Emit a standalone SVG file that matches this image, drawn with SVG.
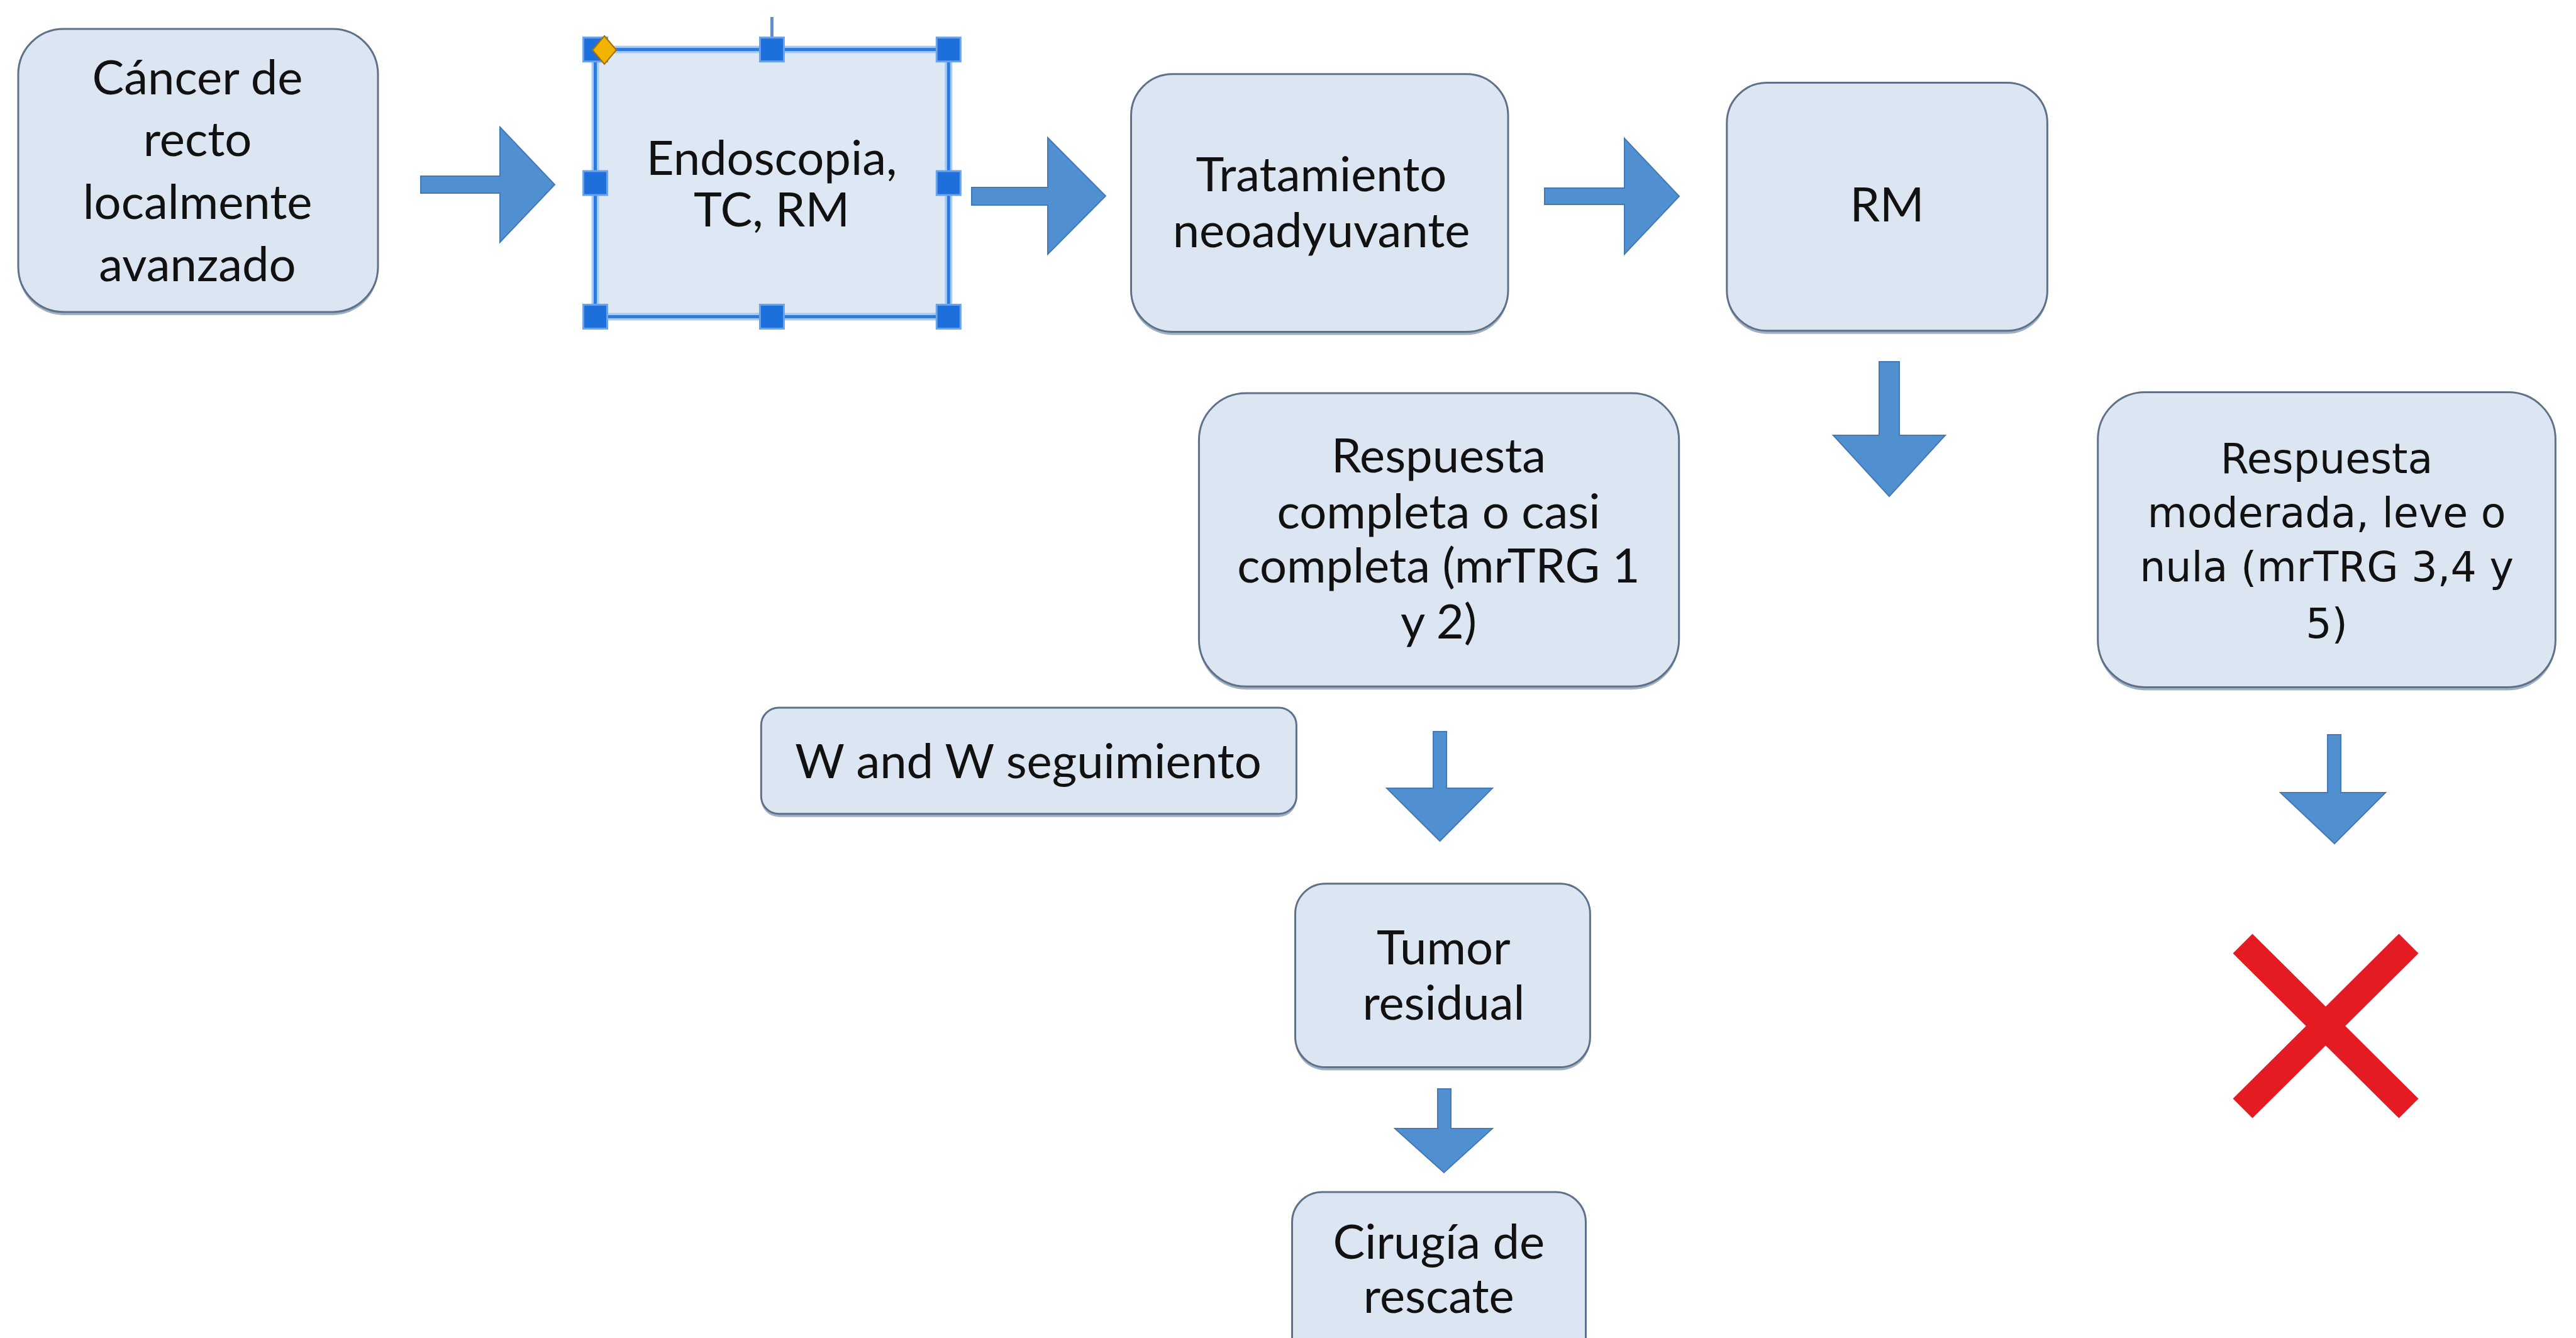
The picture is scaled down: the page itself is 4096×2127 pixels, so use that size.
<svg xmlns="http://www.w3.org/2000/svg" width="4096" height="2127" viewBox="0 0 4096 2127">
<defs>
<style>
.box{fill:#dce6f2;stroke:#5f7188;stroke-width:3}
.sh{fill:#9fb0c4}
.t{font-family:Lato,"Open Sans","Liberation Sans",sans-serif;font-size:76px;fill:#111;text-anchor:middle}
.t2{font-family:"DejaVu Sans","Liberation Sans",sans-serif;font-size:65px;fill:#111;text-anchor:middle}
.arr{fill:#5090d0;stroke:#4579b6;stroke-width:2}
.h{fill:#1d6fdc;stroke:#6aa3ea;stroke-width:3}
.sel{fill:none;stroke:#2a7be0;stroke-width:5}
.halo{fill:none;stroke:#a9cbf2;stroke-width:12}
</style>
</defs>
<rect width="4096" height="2127" fill="#ffffff"/>

<g id="connectors">
<path class="arr" d="M669,280 H795 V202 L882,293.5 L795,385 V307 H669 Z"/>
<path class="arr" d="M1545,298 H1666 V219 L1758,311.5 L1666,404 V326 H1545 Z"/>
<path class="arr" d="M2456,299 H2583 V220 L2670,312 L2583,404 V325 H2456 Z"/>
<path class="arr" d="M2988,575 H3020 V692 H3093 L3004,789 L2915,692 H2988 Z"/>
<path class="arr" d="M2279,1163 H2300 V1253 H2373 L2289.5,1337 L2205,1253 H2279 Z"/>
<path class="arr" d="M3701,1168 H3722 V1260 H3793 L3712,1341 L3626,1260 H3701 Z"/>
<path class="arr" d="M2286,1731 H2307 V1794 H2373 L2296,1864 L2218,1794 H2286 Z"/>
</g>

<g id="n1">
<rect class="sh" x="29" y="51" width="572" height="450" rx="72"/>
<rect class="box" x="29" y="46" width="572" height="450" rx="72"/>
<text class="t" x="314" y="150">Cáncer de</text>
<text class="t" x="314" y="248">recto</text>
<text class="t" x="314" y="348">localmente</text>
<text class="t" x="314" y="447">avanzado</text>
</g>

<g id="n2">
<rect x="946.5" y="78.7" width="561.8" height="424.7" fill="#dde8f4"/>
<line x1="1227.4" y1="27" x2="1227.4" y2="62" stroke="#5a8ed0" stroke-width="5"/>
<rect class="halo" x="946.5" y="78.7" width="561.8" height="424.7"/>
<rect class="sel" x="946.5" y="78.7" width="561.8" height="424.7"/>
<rect class="h" x="927.5" y="59.7" width="38" height="38"/>
<rect class="h" x="1208.4" y="59.7" width="38" height="38"/>
<rect class="h" x="1489.3" y="59.7" width="38" height="38"/>
<rect class="h" x="927.5" y="272" width="38" height="38"/>
<rect class="h" x="1489.3" y="272" width="38" height="38"/>
<rect class="h" x="927.5" y="484.4" width="38" height="38"/>
<rect class="h" x="1208.4" y="484.4" width="38" height="38"/>
<rect class="h" x="1489.3" y="484.4" width="38" height="38"/>
<path d="M961,57 L980,79.5 L961,102 L942,79.5 Z" fill="#f2b200" stroke="#a07000" stroke-width="2"/>
<text class="t" x="1227" y="278">Endoscopia,</text>
<text class="t" x="1227" y="360">TC, RM</text>
</g>

<g id="n3">
<rect class="sh" x="1798.5" y="122.8" width="599.5" height="409.8" rx="66"/>
<rect class="box" x="1798.5" y="117.8" width="599.5" height="409.8" rx="66"/>
<text class="t" x="2101" y="303.6">Tratamiento</text>
<text class="t" x="2101" y="392.5">neoadyuvante</text>
</g>

<g id="n4">
<rect class="sh" x="2745.8" y="136.4" width="509.6" height="394.4" rx="64"/>
<rect class="box" x="2745.8" y="131.4" width="509.6" height="394.4" rx="64"/>
<text class="t" x="3000.6" y="351.8">RM</text>
</g>

<g id="n5">
<rect class="sh" x="1906.4" y="630" width="763.3" height="466.3" rx="75"/>
<rect class="box" x="1906.4" y="625" width="763.3" height="466.3" rx="75"/>
<text class="t" x="2287.5" y="750.8">Respuesta</text>
<text class="t" x="2287.5" y="839.6">completa o casi</text>
<text class="t" x="2287.5" y="926">completa (mrTRG 1</text>
<text class="t" x="2287.5" y="1014.9">y 2)</text>
</g>

<g id="n6">
<rect class="sh" x="3335.7" y="628.5" width="727.7" height="468.9" rx="75"/>
<rect class="box" x="3335.7" y="623.5" width="727.7" height="468.9" rx="75"/>
<text class="t2" x="3699.5" y="752.4">Respuesta</text>
<text class="t2" x="3699.5" y="838.4">moderada, leve o</text>
<text class="t2" x="3699.5" y="924.4">nula (mrTRG 3,4 y</text>
<text class="t2" x="3699.5" y="1014.3">5)</text>
</g>

<g id="n7">
<rect class="sh" x="1210.3" y="1129.9" width="851.1" height="168.8" rx="28"/>
<rect class="box" x="1210.3" y="1124.9" width="851.1" height="168.8" rx="28"/>
<text class="t" x="1635" y="1237">W and W seguimiento</text>
</g>

<g id="n8">
<rect class="sh" x="2059.5" y="1409.7" width="468.9" height="291.8" rx="48"/>
<rect class="box" x="2059.5" y="1404.7" width="468.9" height="291.8" rx="48"/>
<text class="t" x="2295.4" y="1532.5">Tumor</text>
<text class="t" x="2295.4" y="1621">residual</text>
</g>

<g id="n9">
<rect class="box" x="2054.5" y="1895.1" width="467" height="300" rx="48"/>
<text class="t" x="2287.8" y="2001.4">Cirugía de</text>
<text class="t" x="2287.8" y="2086.6">rescate</text>
</g>

<g id="cross">
<line x1="3566" y1="1500" x2="3830" y2="1762" stroke="#e41b23" stroke-width="44"/>
<line x1="3830" y1="1500" x2="3566" y2="1762" stroke="#e41b23" stroke-width="44"/>
</g>
</svg>
